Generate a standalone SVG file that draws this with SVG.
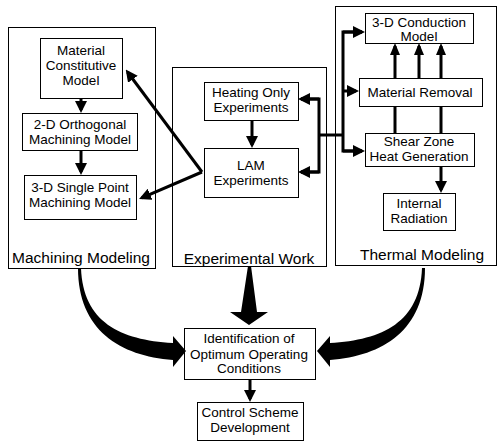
<svg xmlns="http://www.w3.org/2000/svg" width="500" height="447" viewBox="0 0 500 447">
<style>
.box{fill:#fff;stroke:#000;stroke-width:1}
.frame{fill:none;stroke:#000;stroke-width:1}
text{font-family:"Liberation Sans",Arial,sans-serif;font-size:13.5px;fill:#000;text-anchor:middle}
.lbl{font-size:15.5px}
.ln{stroke:#000;stroke-width:3;fill:none}
.big{fill:#000;stroke:none}
</style>
<defs>
<marker id="ah" viewBox="0 0 12 12" refX="9" refY="6" markerWidth="12" markerHeight="12" markerUnits="userSpaceOnUse" orient="auto">
<path d="M0,0 L12,6 L0,12 z" fill="#000"/>
</marker>
<marker id="ahs" viewBox="0 0 12 10" refX="9" refY="5" markerWidth="12" markerHeight="10" markerUnits="userSpaceOnUse" orient="auto">
<path d="M0,0 L12,5 L0,10 z" fill="#000"/>
</marker>
</defs>

<g id="machining-modeling">
<rect class="frame" x="8.5" y="27.5" width="147" height="241"/>
<text class="lbl" x="81" y="263">Machining Modeling</text>
</g>
<g id="material-constitutive-model">
<rect class="box" x="40.5" y="38.5" width="82" height="60"/>
<text x="81" y="55">Material</text>
<text x="81" y="70">Constitutive</text>
<text x="81" y="85">Model</text>
</g>
<g id="orthogonal-model">
<rect class="box" x="22.5" y="113.5" width="115" height="37"/>
<text x="80" y="129">2-D Orthogonal</text>
<text x="80" y="144">Machining Model</text>
</g>
<g id="single-point-model">
<rect class="box" x="24.5" y="175.5" width="112" height="44"/>
<text x="80" y="192">3-D Single Point</text>
<text x="80" y="207">Machining Model</text>
</g>

<g id="experimental-work">
<rect class="frame" x="172.5" y="67.5" width="154" height="199"/>
<text class="lbl" x="249" y="264">Experimental Work</text>
</g>
<g id="heating-only">
<rect class="box" x="204.5" y="82.5" width="94" height="38"/>
<text x="251" y="97">Heating Only</text>
<text x="251" y="112">Experiments</text>
</g>
<g id="lam-experiments">
<rect class="box" x="204.5" y="148.5" width="94" height="49"/>
<text x="251" y="170">LAM</text>
<text x="251" y="185">Experiments</text>
</g>

<g id="thermal-modeling">
<rect class="frame" x="335.5" y="6.5" width="161" height="259"/>
<text class="lbl" x="422" y="260">Thermal Modeling</text>
</g>
<g id="conduction-model">
<rect class="box" x="365.5" y="13.5" width="108" height="30"/>
<text x="419" y="27">3-D Conduction</text>
<text x="419" y="41">Model</text>
</g>
<g id="material-removal">
<rect class="box" x="359.5" y="78.5" width="123" height="28"/>
<text x="420" y="97">Material Removal</text>
</g>
<g id="shear-zone">
<rect class="box" x="365.5" y="133.5" width="109" height="33"/>
<text x="419" y="146">Shear Zone</text>
<text x="419" y="161">Heat Generation</text>
</g>
<g id="internal-radiation">
<rect class="box" x="383.5" y="193.5" width="72" height="37"/>
<text x="419" y="208">Internal</text>
<text x="419" y="223">Radiation</text>
</g>

<g id="identification">
<rect class="box" x="184.5" y="328.5" width="131" height="51"/>
<text x="249" y="343">Identification of</text>
<text x="249" y="359">Optimum Operating</text>
<text x="249" y="373">Conditions</text>
</g>
<g id="control-scheme">
<rect class="box" x="197.5" y="402.5" width="106" height="38"/>
<text x="250" y="417">Control Scheme</text>
<text x="250" y="432">Development</text>
</g>

<g id="connectors">
<line class="ln" x1="81" y1="99" x2="81" y2="110" marker-end="url(#ah)"/>
<line class="ln" x1="81" y1="151" x2="81" y2="172" marker-end="url(#ah)"/>
<line class="ln" x1="252" y1="121" x2="252" y2="145" marker-end="url(#ah)"/>
<line class="ln" x1="202" y1="172" x2="127.5" y2="72" marker-end="url(#ah)"/>
<line class="ln" x1="202" y1="172" x2="141.8" y2="197.8" marker-end="url(#ah)"/>
<polyline class="ln" points="301,99 319,99 319,172 301,172"/>
<line class="ln" x1="319" y1="99" x2="301" y2="99" marker-end="url(#ah)"/>
<line class="ln" x1="319" y1="172" x2="301" y2="172" marker-end="url(#ah)"/>
<line class="ln" x1="319" y1="135" x2="343" y2="135"/>
<polyline class="ln" points="362,32 343,32 343,151 362,151"/>
<line class="ln" x1="343" y1="32" x2="362" y2="32" marker-end="url(#ah)"/>
<line class="ln" x1="343" y1="91" x2="356" y2="91" marker-end="url(#ah)"/>
<line class="ln" x1="343" y1="151" x2="362" y2="151" marker-end="url(#ah)"/>
<line class="ln" x1="395" y1="78" x2="395" y2="46" marker-end="url(#ahs)"/>
<line class="ln" x1="419" y1="78" x2="419" y2="46" marker-end="url(#ahs)"/>
<line class="ln" x1="441" y1="78" x2="441" y2="46" marker-end="url(#ahs)"/>
<line class="ln" x1="395" y1="133" x2="395" y2="107"/>
<line class="ln" x1="441" y1="133" x2="441" y2="107"/>
<line class="ln" x1="441" y1="167" x2="441" y2="190" marker-end="url(#ah)"/>
<line class="ln" x1="250" y1="380" x2="250" y2="399" marker-end="url(#ah)"/>
<path class="big" d="M78,268 C78,330 120,356 173,360 L173,367 L186,351 L173,336 L173,343 C120,340 83,322 81,268 Z"/>
<path class="big" d="M425,268 C425,330 383,356 330,360 L330,367 L317,351 L330,336 L330,343 C383,340 420,322 422,268 Z"/>
<path class="big" d="M248,266 L251,266 L257,312 L268,312 L249,325 L230,312 L241,312 Z"/>
</g>
</svg>
